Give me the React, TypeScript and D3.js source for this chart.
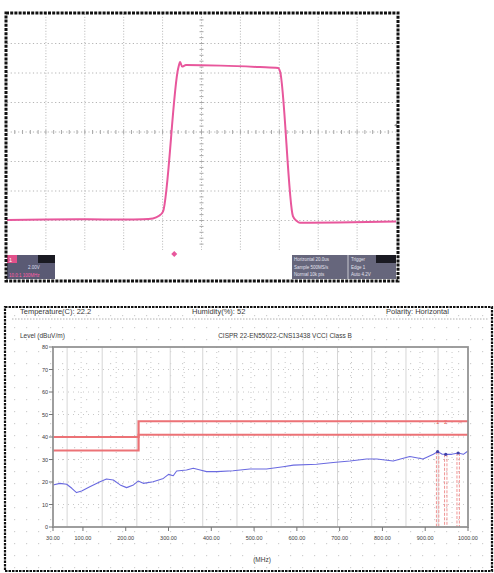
import React from 'react';
import * as d3 from 'd3';

// scope trace (divisions)
const scopeT = [0, 1, 2, 3, 3.5, 3.75, 3.9, 4.01, 4.4, 4.45, 4.5, 4.6, 5.5, 6.5, 6.97, 7.02, 7.35, 7.45, 7.53, 8.5, 10];
const scopeV = [-2.98, -2.97, -2.96, -2.97, -2.96, -2.93, -2.85, -2.7, 2.15, 2.37, 2.22, 2.27, 2.25, 2.2, 2.17, 2.05, -2.85, -3.02, -3.08, -3.07, -3.03];

// EMC scan
const freq = [30, 46, 62, 74, 85, 97, 116, 140, 155, 171, 187, 202, 218, 229, 241, 264, 288, 300, 311, 319, 342, 358, 374, 389, 413, 451, 490, 529, 568, 592, 646, 685, 724, 763, 787, 825, 864, 895, 919, 929, 939, 948, 962, 977, 989, 1000];
const level = [18.7, 19.4, 19, 17.2, 15.3, 16, 17.9, 20.1, 21.3, 20.9, 18.7, 17.5, 18.7, 20.4, 19.4, 20.1, 21.6, 23.4, 22.8, 24.9, 25.3, 26.1, 25.3, 24.6, 24.6, 25, 25.8, 25.8, 26.8, 27.5, 27.9, 28.7, 29.3, 30.2, 30.2, 29.3, 31.3, 30.2, 32.3, 33.5, 32.4, 32.3, 32.3, 32.9, 32.3, 33.8];
const limitF = [30, 230, 230, 1000];
const limitL = [40, 40, 47, 47];
const marginL = [34, 34, 41, 41];
const markerF = [929, 948, 977];
const markerL = [33.5, 32.3, 32.9];
const yTicks = [0, 10, 20, 30, 40, 50, 60, 70, 80];
const xTicks = [30, 100, 200, 300, 400, 500, 600, 700, 800, 900, 1000];
const gridF = [63, 145, 226, 304, 380, 460, 540, 615, 695, 775, 855, 930];

export default function App() {
  // scope
  const sx = d3.scaleLinear([0, 10], [7, 396]);
  const sy = d3.scaleLinear([-4, 4], [250, 14]);
  const trace = d3.line<number>().x((_, i) => sx(scopeT[i])).y(d => sy(d)).curve(d3.curveMonotoneX)(scopeV) || '';
  const divX = d3.range(1, 10);
  const divY = d3.range(-3, 4);
  const minor = d3.range(0.2, 10, 0.2);
  const minorY = d3.range(-3.8, 4, 0.2);

  // emc
  const x = d3.scaleLinear([30, 1000], [53, 468]);
  const y = d3.scaleLinear([0, 80], [527, 347]);
  const scan = d3.line<number>().x((_, i) => x(freq[i])).y(d => y(d))(level) || '';
  const lim = d3.line<number>().x((_, i) => x(limitF[i])).y(d => y(d));
  const interp = d3.scaleLinear(freq, level);

  const txt = { fontFamily: 'Liberation Sans, Arial, sans-serif', fill: '#3a3a3a' };
  const small = { fontFamily: 'Liberation Sans' };

  return (
    <svg width={494} height={573} style={{ position: 'absolute', left: 0, top: 0, background: '#fff' }}>
      <defs>
        <pattern id="dots" width={12} height={12} patternUnits="userSpaceOnUse" x={2} y={3}>
          <rect width={1.2} height={1.2} fill="#cfcfcf" />
        </pattern>
      </defs>
      {/* ---------- oscilloscope ---------- */}
      <rect x={6} y={13} width={392} height={268} fill="#fff" />
      {divX.map(d => (
        <line key={'vx' + d} x1={sx(d)} x2={sx(d)} y1={sy(4)} y2={sy(-4)} stroke="#b4b4b4" strokeWidth={1} strokeDasharray="1 1.8" />
      ))}
      {divY.map(d => (
        <line key={'hy' + d} x1={sx(0)} x2={sx(10)} y1={sy(d)} y2={sy(d)} stroke="#b4b4b4" strokeWidth={1} strokeDasharray="1.2 2.5" />
      ))}
      {minor.map(d => (
        <line key={'mx' + d} x1={sx(d)} x2={sx(d)} y1={sy(0) - 2} y2={sy(0) + 2} stroke="#a8a8a8" />
      ))}
      {minorY.map(d => (
        <line key={'my' + d} x1={sx(5) - 2} x2={sx(5) + 2} y1={sy(d)} y2={sy(d)} stroke="#a8a8a8" />
      ))}
      <path d={trace} fill="none" stroke="#e8579c" strokeWidth={2} strokeLinejoin="round" />
      <path d={`M${sx(4.3)},${sy(-4) + 1}l3,3l-3,3l-3,-3z`} fill="#e8579c" />
      <path d={`M${sx(10) + 1},${sy(0.3)}l-3,2l3,2z`} fill="#999" />
      {/* status boxes */}
      <rect x={7} y={255} width={48} height={24} fill="#5a5a74" />
      <rect x={7} y={255} width={10} height={8} fill="#e0508a" />
      <rect x={38} y={255} width={17} height={8} fill="#1a1a22" />
      <text x={9} y={261.5} fontSize={5.5} fill="#fff" style={small}>1</text>
      <text x={28} y={269} fontSize={4.5} fill="#dcdcec" style={small}>2.00V</text>
      <text x={9} y={277} fontSize={4.5} fill="#ff5fa8" style={small}>10.0:1 100MHz</text>
      <rect x={292} y={255} width={104} height={24} fill="#66667c" />
      <rect x={376} y={255} width={20} height={8} fill="#1a1a22" />
      <line x1={348} x2={348} y1={255} y2={279} stroke="#c8c8d0" strokeWidth={1} />
      <text x={294} y={261} fontSize={4.5} fill="#e2e2ee" style={small}>Horizontal 20.0us</text>
      <text x={294} y={268.5} fontSize={4.5} fill="#e2e2ee" style={small}>Sample 500MS/s</text>
      <text x={294} y={276} fontSize={4.5} fill="#e2e2ee" style={small}>Normal 10k pts</text>
      <text x={351} y={261} fontSize={4.5} fill="#e2e2ee" style={small}>Trigger</text>
      <text x={351} y={268.5} fontSize={4.5} fill="#e2e2ee" style={small}>Edge 1</text>
      <text x={351} y={276} fontSize={4.5} fill="#e2e2ee" style={small}>Auto 4.2V</text>
      <rect x={6} y={13} width={392} height={268} fill="none" stroke="#111" strokeWidth={3} strokeDasharray="3 1.2" />

      {/* ---------- EMC plot ---------- */}
      <rect x={5} y={307} width={487} height={264} fill="url(#dots)" />
      <text x={20} y={314} fontSize={7.5} {...txt}>Temperature(C):  22.2</text>
      <text x={192} y={314} fontSize={7.5} {...txt}>Humidity(%):  52</text>
      <text x={386} y={314} fontSize={7.5} {...txt}>Polarity:   Horizontal</text>
      <line x1={12} x2={489} y1={319} y2={319} stroke="#b0b0b0" strokeDasharray="1.5 1.5" />
      <text x={20} y={338} fontSize={6.5} {...txt}>Level (dBuV/m)</text>
      <text x={285} y={338} fontSize={6.5} textAnchor="middle" {...txt}>CISPR 22-EN55022-CNS13438 VCCI   Class B</text>
      <rect x={53} y={347} width={415} height={180} fill="#fff" />
      <rect x={53} y={347} width={415} height={180} fill="url(#dots)" />
      {gridF.map(f => (
        <line key={'g' + f} x1={x(f)} x2={x(f)} y1={347} y2={527} stroke="#d6d6d6" strokeWidth={1} />
      ))}
      {gridF.map(f => (
        <line key={'gd' + f} x1={x(f) + 14} x2={x(f) + 14} y1={347} y2={527} stroke="#c8c8c8" strokeWidth={1} strokeDasharray="1 4" />
      ))}
      {yTicks.slice(1, -1).map(t => (
        <line key={'hg' + t} x1={53} x2={468} y1={y(t)} y2={y(t)} stroke="#c8c8c8" strokeDasharray="1 4" />
      ))}
      {/* marker drop lines */}
      {markerF.map((f, i) => (
        <g key={'m' + f}>
          <line x1={x(f) - 1.2} x2={x(f) - 1.2} y1={y(markerL[i])} y2={527} stroke="#ee8a8a" strokeWidth={0.9} strokeDasharray="3 1.5" />
          <line x1={x(f) + 1.2} x2={x(f) + 1.2} y1={y(markerL[i])} y2={527} stroke="#ee8a8a" strokeWidth={0.9} strokeDasharray="3 1.5" />
          <text x={x(f) + (i === 2 ? 2 : 0)} y={y(47) + 3} fontSize={6} fill="#e06060" textAnchor="middle" style={small}>{i === 2 ? '→' : String(i + 1)}</text>
        </g>
      ))}
      <path d={lim(limitL) || ''} fill="none" stroke="#ec7276" strokeWidth={2.2} />
      <path d={lim(marginL) || ''} fill="none" stroke="#ec7276" strokeWidth={2.2} />
      <path d={scan} fill="none" stroke="#6a6ae0" strokeWidth={1.1} strokeLinejoin="round" />
      {markerF.map(f => (
        <circle key={'c' + f} cx={x(f)} cy={y(interp(f))} r={1.6} fill="#4040a8" />
      ))}
      <rect x={53} y={347} width={415} height={180} fill="none" stroke="#949494" strokeWidth={1.8} />
      {yTicks.map(t => (
        <g key={'yt' + t}>
          <line x1={49} x2={53} y1={y(t)} y2={y(t)} stroke="#777" />
          <text x={48} y={y(t) + 2} fontSize={5.5} textAnchor="end" {...txt}>{t}</text>
        </g>
      ))}
      {xTicks.map(t => (
        <g key={'xt' + t}>
          <line x1={x(t)} x2={x(t)} y1={527} y2={531} stroke="#777" />
          <text x={x(t)} y={540} fontSize={5.5} textAnchor="middle" {...txt}>{t.toFixed(2)}</text>
        </g>
      ))}
      <text x={262} y={562} fontSize={6.5} textAnchor="middle" {...txt}>(MHz)</text>
      <rect x={5} y={307} width={487} height={264} fill="none" stroke="#111" strokeWidth={2.2} strokeDasharray="2.5 1" />
    </svg>
  );
}
